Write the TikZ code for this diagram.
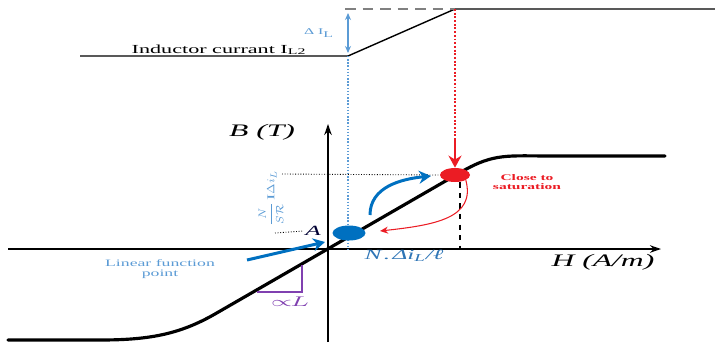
\documentclass[tikz,border=0pt]{standalone}
\usepackage{amsmath,amssymb}
\usepackage{graphicx}
\usepackage{fontspec}
\setmainfont{Liberation Serif}[FakeStretch=1.8]
\usetikzlibrary{shapes.geometric,arrows.meta}

\definecolor{dotblue}{RGB}{0,112,192}
\definecolor{liteblue}{RGB}{91,155,213}
\definecolor{textblue}{RGB}{46,117,182}
\definecolor{satred}{RGB}{235,28,36}
\definecolor{slopepurple}{RGB}{128,64,176}

\newcommand{\fs}[1]{\fontsize{#1}{#1}\selectfont}

\begin{document}
\begin{tikzpicture}[x=0.2mm, y=-0.2mm,
    axis/.style={line width=0.8pt, -{Stealth[length=2.2mm,width=1.5mm]}},
    bhcurve/.style={line width=1.8pt, line cap=round},
    workdot/.style={ellipse, fill=#1, minimum width=6.6mm, minimum height=3mm, inner sep=0pt},
    thickarrow/.style={line width=1.7pt, -{Stealth[length=2.4mm,width=2.6mm]}},
    every node/.style={inner sep=1pt}]
  \useasboundingbox (0,0) rectangle (715,342);

  % inductor current waveform
  \coordinate (ilStart) at (80,56);
  \coordinate (ilLow) at (348,56);
  \coordinate (ilHigh) at (455,9);
  \coordinate (ilEnd) at (715,9);
  \coordinate (ilDash) at (345,9);
  \coordinate (dTop) at (348,13);
  \coordinate (dBot) at (348,53);
  \draw[line width=0.8pt] (ilStart) -- (ilLow) -- (ilHigh) -- (ilEnd);
  \draw[gray, line width=0.7pt, dash pattern=on 6pt off 4pt] (ilDash) -- (ilHigh);
  \draw[liteblue, line width=0.6pt, {Stealth[length=1.4mm,width=1.2mm]}-{Stealth[length=1.4mm,width=1.2mm]}] (dTop) -- (dBot);
  \node[liteblue, font=\fs{5}] (labDI) at (319,33) {Δ I\textsubscript{L}};
  \node[font=\fs{7}, anchor=base] (labIL) at (219,53) {Inductor currant I\textsubscript{L2}};

  % axes
  \coordinate (hStart) at (8,249);
  \coordinate (hEnd) at (661,249);
  \coordinate (bStart) at (328,342);
  \coordinate (bEnd) at (328,124);
  \draw[axis] (hStart) -- (hEnd);
  \draw[axis] (bStart) -- (bEnd);
  \node[font=\fs{10}\itshape] (labB) at (262,132) {B (T)};
  \node[font=\fs{10}\itshape] (labH) at (603,262) {H (A/m)};

  % guide lines
  \coordinate (hAtA) at (348,249);
  \coordinate (satFoot) at (460,249);
  \coordinate (redTop) at (455,138);
  \coordinate (bSat) at (282,174);
  \coordinate (bA) at (275,233);
  \draw[liteblue, line width=0.8pt, densely dotted] (ilLow) -- (hAtA);
  \draw[satred, line width=1.1pt, densely dotted] (ilHigh) -- (redTop);

  % B-H curve
  \draw[bhcurve] (8,340) -- (100,340) .. controls (150,340) and (180,334) .. (215,314)
    -- (462,171.5) .. controls (494,153) and (508,156) .. (552,156) -- (665,156);

  % operating points
  \node[workdot=dotblue] (opA) at (349,233) {};
  \node[workdot=satred, minimum width=6mm, minimum height=2.8mm] (opS) at (455,175) {};
  \node[font=\fs{8}\itshape, text=black!80!blue] (labA) at (313,231) {A};
  \draw[line width=0.5pt, densely dotted] (bSat) -- (opS.west);
  \draw[line width=0.5pt, densely dotted] (bA) -- (labA.west);
  \draw[line width=0.6pt, dashed] (opS.south -| satFoot) -- (satFoot);
  \draw[thickarrow, satred] (redTop) -- (opS.north);

  \node[liteblue, rotate=90, font=\fs{6}] (labFrac) at (271,198) {$\dfrac{N}{S\mathcal{R}}\,\mathrm{I}\,\Delta i_L$};
  \node[textblue, font=\fs{8}\itshape] (labN) at (404,256) {N\,.\,Δi\textsubscript{L}/ℓ};

  % linear point arrow
  \node[liteblue, align=center, font=\fs{5.6}] (labLin) at (160,269) {Linear function\\point};
  \coordinate (linTail) at (247,260);
  \coordinate (linHead) at (325,242);
  \draw[thickarrow, dotblue] (linTail) -- (linHead);

  % towards saturation
  \coordinate (riseTail) at (370,215);
  \coordinate (riseHead) at (431,176);
  \draw[thickarrow, dotblue] (riseTail) .. controls +(0,-28) and +(-30,3) .. (riseHead);
  \coordinate (fallHead) at (380,231);
  \draw[satred, line width=0.6pt, -{Stealth[length=1.6mm,width=1.4mm]}] (opS.south east) .. controls +(10,38) and +(55,-6) .. (fallHead);
  \node[satred, align=center, font=\fs{4.9}\bfseries] (labSat) at (527,182) {Close to\\saturation};

  % slope triangle
  \coordinate (slTop) at (302,265);
  \coordinate (slCorner) at (302,292);
  \coordinate (slLeft) at (257,292);
  \draw[slopepurple, line width=0.9pt] (slTop) -- (slCorner) -- (slLeft);
  \node[slopepurple, font=\fs{8}] (labL) at (290,302) {\scalebox{1.8}[1]{$\propto\!\!L$}};
\end{tikzpicture}
\end{document}
